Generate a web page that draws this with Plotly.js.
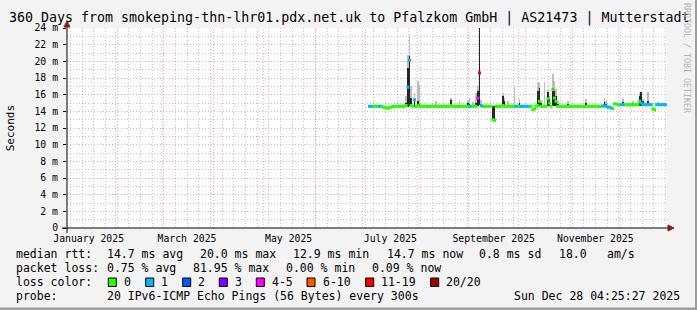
<!DOCTYPE html>
<html><head><meta charset="utf-8">
<script src="https://cdn.plot.ly/plotly-3.0.1.min.js"></script>
<style>html,body{margin:0;padding:0;background:#f3f3f3;}#chart{width:697px;height:310px;}</style>
</head><body><div id="chart"></div>
<script>
// ---------- data ----------
const startDate = [2025, 6, 3]; // 2025-07-03, one value per day
const medianJul = [14.6,14.6,14.6,14.6,14.6,14.6,14.6,14.6,14.5,14.5, 14.4,14.4,14.4,14.5,14.6,14.6,14.6,14.6,14.6,14.6, 14.6,14.6,14.7,16.9,20.1,14.7,14.6,15.4,14.6];
const medianAug = [14.7,14.6,14.6,14.6,14.6,14.6,14.6,14.6,14.6,14.6, 14.6,14.6,14.6,14.6,14.6,14.6,14.6,14.6,14.6,14.6, 14.7,14.6,14.6,14.6,14.6,14.6,14.6,14.6,14.6,14.6, 14.6];
const medianSep = [14.6,14.6,14.6,14.6,14.6,15.6,18.6,14.7,14.6,14.6, 14.6,14.6,14.6,14.6,13.0,12.9,14.6,14.6,14.6,14.6, 14.7,14.6,14.6,14.6,14.6,14.6,14.6,14.6,14.6,14.6];
const medianOct = [14.6,14.6,14.6,14.6,14.6,14.6,14.6,14.6,14.2,14.3, 14.6,14.7,15.2,14.6,14.6,14.6,14.6,15.5,15.0,14.6, 16.6,15.6,15.2,14.6,14.6,14.6,14.6,14.6,14.6,14.6, 14.6];
const medianNov = [14.6,14.6,14.6,14.6,14.6,14.6,14.6,14.6,14.6,14.6, 14.6,14.6,14.6,14.6,14.6,14.6,14.6,14.6,14.6,14.65, 14.65,14.6,14.5,14.5,14.4,14.3,14.9,14.9,14.8,14.8];
const medianDec = [14.8,14.8,14.8,14.8,14.8,14.8,14.8,14.8,14.8,14.8, 14.8,15.2,15.0,14.8,14.8,14.8,14.8,14.8,14.8,14.3, 14.2,14.8,14.8,14.8,14.8,14.8,14.8,14.8];

// loss bucket per day: 0="0",1="1",2="2",3="3",4="4-5",5="6-10",6="11-19",7="20/20"
const lossJul = [1,1,0,0,0,0,1,0,0,0, 0,0,0,0,0,0,0,0,0,0, 0,0,0,1,1,0,0,1,0];
const lossAug = [0,0,0,0,0,0,0,0,0,0, 0,0,0,0,0,0,0,0,0,0, 0,0,0,0,0,0,0,0,0,0, 0];
const lossSep = [1,0,0,0,0,4,6,1,0,0, 0,0,0,0,0,0,0,0,0,0, 0,0,0,0,0,0,0,0,1,0];
const lossOct = [0,1,1,1,1,1,0,0,0,0, 0,0,0,0,0,0,0,0,0,0, 0,0,0,0,0,0,0,0,0,0, 0];
const lossNov = [0,0,0,0,0,0,0,0,0,0, 0,0,0,0,0,0,0,0,0,1, 1,1,1,1,1,0,0,0,0,0];
const lossDec = [1,1,0,0,0,0,0,0,0,0, 0,0,1,1,1,1,1,1,1,0, 0,0,1,1,1,1,1,1];

const lossLabels = ['0','1','2','3','4-5','6-10','11-19','20/20'];
const lossColors = ['#26ff00','#00b8ff','#0059ff','#7e00ff','#ff00ff','#ff5500','#ff0000','#a10000'];

// smoke (spread of the pings) on days where it is visible
const smokeDates = ['2025-07-25','2025-07-26','2025-07-27','2025-07-28','2025-07-30','2025-08-01','2025-08-02','2025-08-12','2025-08-21','2025-08-26','2025-08-31','2025-09-01','2025-09-03','2025-09-05','2025-09-06','2025-09-07','2025-09-08','2025-09-15','2025-09-16','2025-09-21','2025-09-22','2025-09-24','2025-09-28','2025-10-01','2025-10-12','2025-10-13','2025-10-14','2025-10-16','2025-10-18','2025-10-19','2025-10-21','2025-10-22','2025-10-23','2025-10-24','2025-10-30','2025-11-10','2025-11-21','2025-11-22','2025-12-02','2025-12-08','2025-12-12','2025-12-13','2025-12-14','2025-12-17','2025-12-23'];
const smokeLo   = [14.5,14.5,14.7,14.5,14.5,14.5,14.5,14.5,14.5,14.5,14.5,14.5,14.5,14.5,14.6,14.8,14.5,13.0,12.9,14.5,14.5,14.5,14.5,14.5,14.5,14.6,14.5,14.5,14.6,14.6,14.7,14.7,14.6,14.5,14.5,14.5,14.5,14.5,14.7,14.7,14.7,14.7,14.7,14.7,14.7];
const smokeDark = [15.0,19.2,20.6,15.6,15.5,15.2,14.9,14.7,15.4,14.8,15.0,14.9,14.8,15.0,16.5,26.0,14.8,14.6,14.6,15.8,15.2,14.8,14.8,15.0,16.5,16.8,15.0,14.8,16.3,15.5,16.8,16.5,15.8,14.9,14.9,15.0,15.1,14.9,15.1,15.0,15.8,16.3,15.2,15.3,14.9];
const smokeHi   = [15.8,20.8,23.2,17.0,16.2,17.6,17.2,15.2,15.6,15.2,15.4,15.6,15.1,16.2,17.0,26.0,15.4,14.6,14.6,16.2,15.6,15.3,16.9,15.5,17.5,17.4,15.4,17.5,16.6,15.8,18.5,17.7,16.7,15.2,15.2,15.5,15.6,15.3,15.5,15.2,16.2,16.3,15.5,16.3,15.1];

const monthStarts = ['2025-02-01','2025-03-01','2025-04-01','2025-05-01','2025-06-01','2025-07-01','2025-08-01','2025-09-01','2025-10-01','2025-11-01','2025-12-01'];
const labelDates = ['2025-01-16','2025-03-16','2025-05-16','2025-07-16','2025-09-16','2025-11-16'];
const labelTexts = ['January 2025','March 2025','May 2025','July 2025','September 2025','November 2025'];
const yTickVals = [0,2,4,6,8,10,12,14,16,18,20,22,24];
const yTickText = ['0','2 m','4 m','6 m','8 m','10 m','12 m','14 m','16 m','18 m','20 m','22 m','24 m'];

const titleText = '360 Days from smokeping-thn-lhr01.pdx.net.uk to Pfalzkom GmbH | AS21473 | Mutterstadt';
const rttItems  = ['median rtt:','14.7 ms avg','20.0 ms max','12.9 ms min','14.7 ms now','0.8 ms sd','18.0','am/s'];
const lossItems = ['packet loss:','0.75 % avg','81.95 % max','0.00 % min','0.09 % now'];
const probeItems = ['probe:','20 IPv6-ICMP Echo Pings (56 Bytes) every 300s'];
const stampText = 'Sun Dec 28 04:25:27 2025';
const sideText = 'RRDTOOL / TOBI OETIKER';

// ---------- build ----------
const median = medianJul.concat(medianAug, medianSep, medianOct, medianNov, medianDec);
const loss = lossJul.concat(lossAug, lossSep, lossOct, lossNov, lossDec);
const dates = median.map((_, i) => {
  const d = new Date(Date.UTC(startDate[0], startDate[1], startDate[2] + i));
  return d.toISOString().slice(0, 10) + ' 12:00';
});
const DAY = 86400000;
const MONO = 'DejaVu Sans Mono';

const traces = [];
traces.push({type:'bar', x: smokeDates.map(d => d + ' 12:00'), y: smokeHi.map((h, i) => h - smokeLo[i]), base: smokeLo,
  width: DAY, marker: {color: '#bdbdbd', line: {width: 0}}, hoverinfo: 'skip', cliponaxis: true});
traces.push({type:'bar', x: smokeDates.map(d => d + ' 12:00'), y: smokeDark.map((h, i) => h - smokeLo[i]), base: smokeLo,
  width: DAY, marker: {color: '#262626', line: {width: 0}}, hoverinfo: 'skip', cliponaxis: true});
for (let b = 0; b < lossColors.length; b++) {
  const idx = [];
  loss.forEach((l, i) => { if (l === b) idx.push(i); });
  if (!idx.length) continue;
  traces.push({type:'scatter', mode:'markers', x: idx.map(i => dates[i]), y: idx.map(i => median[i]), cliponaxis: true,
    marker: {color: lossColors[b], size: 3, symbol: 'square', line: {width: 0}}, hoverinfo: 'skip'});
}

// pixel helpers for text and frame
const PL = 67, PW = 600, PT = 28, PH = 200;
const X = px => (px - PL) / PW;
const Y = py => (PT + PH - py) / PH;

const ann = [];
function txt(t, px, py, size, opts) {
  ann.push(Object.assign({text: t, x: X(px), y: Y(py), xref: 'paper', yref: 'paper', xanchor: 'left', yanchor: 'middle',
    showarrow: false, borderpad: 0, borderwidth: 0, font: {family: MONO, size: size, color: '#000'}}, opts || {}));
}
txt(titleText, 348.5, 18.3, 13.3, {xanchor: 'center'});
txt('Seconds', 10, 128.3, 11, {xanchor: 'center', textangle: -90});
txt(sideText, 687, 58, 8.3, {xanchor: 'center', textangle: 90, font: {family: MONO, size: 8.3, color: '#b4b4b4'}});

const rttX = [16, 107.3, 200, 293.3, 386.7, 479, 559, 607.3];
rttItems.forEach((t, i) => txt(t, rttX[i], 254.3, 11.5));
const lossX = [16, 107.3, 193.3, 286, 372.3];
lossItems.forEach((t, i) => txt(t, lossX[i], 268.3, 11.5));
txt('loss color:', 16, 282.3, 11.5);
const boxX = [108.3, 145.7, 182.7, 219.3, 256.3, 307, 365.7, 430.7];
const shapes = [];
lossLabels.forEach((t, i) => {
  txt(t, boxX[i] + 15.7, 282.3, 11.5);
  shapes.push({type: 'rect', xref: 'paper', yref: 'paper', x0: X(boxX[i]), x1: X(boxX[i] + 8), y0: Y(278), y1: Y(286.5),
    fillcolor: lossColors[i], line: {color: '#000', width: 1}});
});
txt(probeItems[0], 16, 296, 11.5);
txt(probeItems[1], 107.3, 296, 11.5);
txt(stampText, 680, 296, 11.5, {xanchor: 'right'});

// month grid lines (major, red dotted)
monthStarts.forEach(d => shapes.push({type: 'line', xref: 'x', yref: 'paper', x0: d, x1: d, y0: 0, y1: 1, layer: 'below',
  line: {color: 'rgba(235,60,60,0.45)', width: 1, dash: '1px,2px'}}));
// axes with arrows
shapes.push({type: 'line', xref: 'paper', yref: 'paper', x0: X(62), x1: X(669), y0: 0, y1: 0, line: {color: '#000', width: 1}});
shapes.push({type: 'line', xref: 'paper', yref: 'paper', x0: 0, x1: 0, y0: Y(233), y1: Y(24), line: {color: '#000', width: 1}});
shapes.push({type: 'path', xref: 'paper', yref: 'paper', path: `M ${X(668)} ${Y(PT+PH-3)} L ${X(674)} 0 L ${X(668)} ${Y(PT+PH+3)} Z`,
  fillcolor: '#8b1a1a', line: {color: '#8b1a1a', width: 1}});
shapes.push({type: 'path', xref: 'paper', yref: 'paper', path: `M ${X(64)} ${Y(27)} L 0 ${Y(21)} L ${X(70)} ${Y(27)} Z`,
  fillcolor: '#8b1a1a', line: {color: '#8b1a1a', width: 1}});
// frame shading
shapes.push({type: 'rect', xref: 'paper', yref: 'paper', x0: X(695), x1: X(697.5), y0: Y(310), y1: Y(0), fillcolor: '#9e9e9e', line: {width: 0}});
shapes.push({type: 'rect', xref: 'paper', yref: 'paper', x0: X(0), x1: X(697.5), y0: Y(310.5), y1: Y(307.5), fillcolor: '#9e9e9e', line: {width: 0}});

const layout = {
  width: 697, height: 310,
  margin: {l: PL, r: 697 - PL - PW, t: PT, b: 310 - PT - PH, pad: 0},
  paper_bgcolor: '#f3f3f3', plot_bgcolor: '#ffffff',
  showlegend: false, barmode: 'overlay', bargap: 0,
  font: {family: MONO, size: 10, color: '#000'},
  xaxis: {type: 'date', range: ['2025-01-03', '2025-12-29'], tickmode: 'array', tickvals: labelDates, ticktext: labelTexts,
    showgrid: false, zeroline: false, showline: false, ticks: '', ticklabelstandoff: 3, tickfont: {family: MONO, size: 9.8, color: '#000'},
    minor: {tickmode: 'linear', tick0: '2025-01-05', dtick: 7 * DAY, showgrid: true, gridcolor: 'rgba(150,150,150,0.55)', griddash: '1px,2px', ticks: ''},
    fixedrange: true},
  yaxis: {range: [0, 24], tickmode: 'array', tickvals: yTickVals, ticktext: yTickText, showgrid: true,
    gridcolor: 'rgba(235,60,60,0.45)', griddash: '1px,2px', zeroline: false, showline: false, ticks: 'outside', ticklen: 3,
    tickcolor: '#000', ticklabelstandoff: 3, tickfont: {family: MONO, size: 9.8, color: '#000'},
    minor: {tickmode: 'linear', tick0: 1, dtick: 2, showgrid: true, gridcolor: 'rgba(150,150,150,0.55)', griddash: '1px,2px', ticks: ''},
    fixedrange: true},
  annotations: ann, shapes: shapes
};
Plotly.newPlot('chart', traces, layout, {staticPlot: true, displayModeBar: false});
</script></body></html>
